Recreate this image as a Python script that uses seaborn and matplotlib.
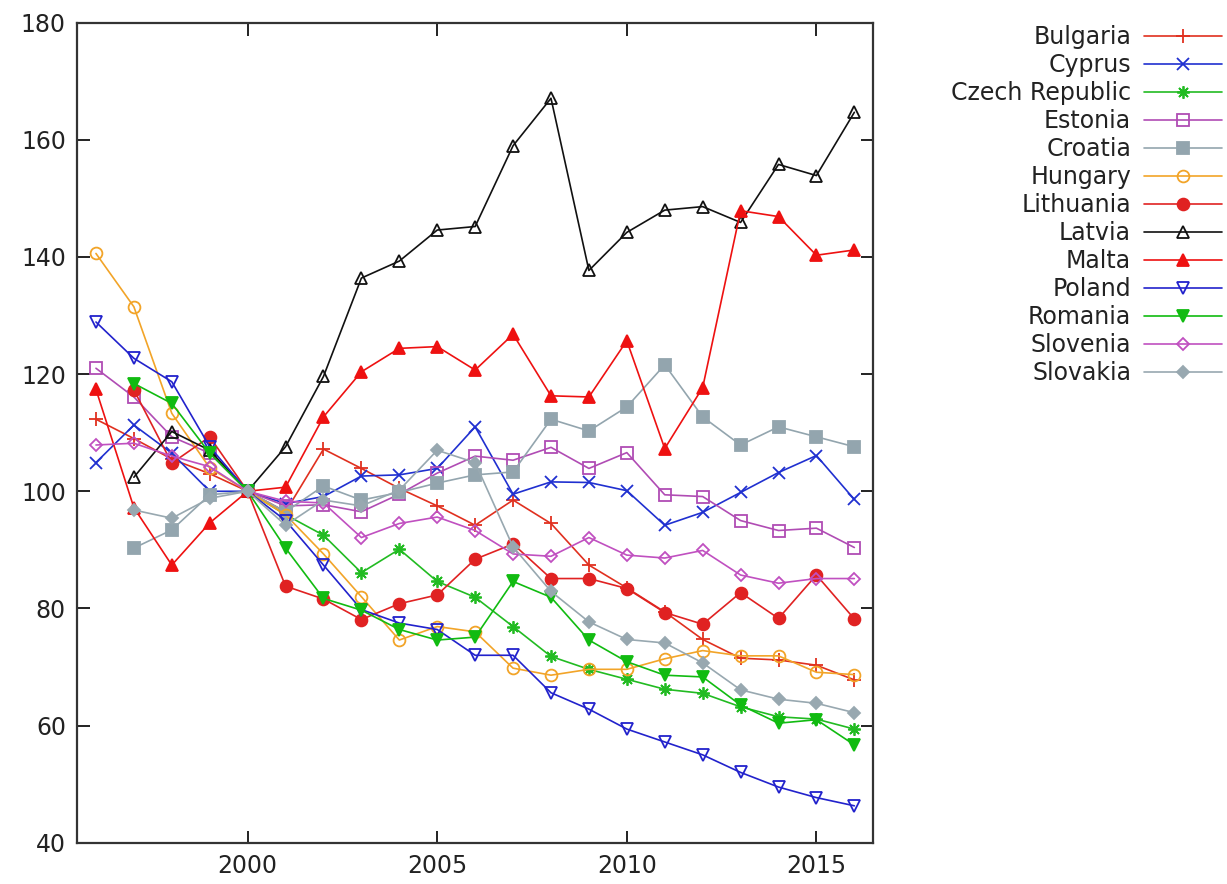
import numpy as np
import pandas as pd
import matplotlib
matplotlib.use("Agg")
import matplotlib.pyplot as plt
import seaborn as sns

years = list(range(1996, 2017))
N = None

countries = ["Bulgaria", "Cyprus", "Czech Republic", "Estonia", "Croatia", "Hungary",
             "Lithuania", "Latvia", "Malta", "Poland", "Romania", "Slovenia", "Slovakia"]

bulgaria = [112.3, 109.0, 105.5, 103.0, 100, 96.5, 107.2, 103.9, 100.5, 97.5, 94.2, 98.5, 94.5,
            87.4, 83.5, 79.4, 74.7, 71.5, 71.2, 70.3, 67.8]
cyprus = [104.9, 111.3, 106.5, 100.0, 100, 97.9, 99.1, 102.6, 102.8, 103.9, 111.0, 99.5, 101.6,
          101.5, 100.1, 94.2, 96.4, 99.8, 103.2, 106.1, 98.6]
czech = [N, N, N, N, 100, 96.0, 92.5, 86.1, 90.1, 84.6, 81.9, 76.9, 71.8,
         69.6, 67.9, 66.2, 65.5, 63.2, 61.5, 61.1, 59.4]
estonia = [121.0, 116.1, 109.3, 106.5, 100, 97.5, 97.7, 96.5, 99.5, 103.1, 106.0, 105.3, 107.5,
           103.9, 106.6, 99.4, 99.1, 95.0, 93.3, 93.7, 90.4]
croatia = [N, 90.3, 93.4, 99.4, 100, 96.5, 100.9, 98.5, 99.8, 101.4, 102.8, 103.3, 112.3,
           110.3, 114.4, 121.6, 112.7, 107.9, 111.0, 109.3, 107.6]
hungary = [140.6, 131.5, 113.3, 104.0, 100, 96.0, 89.3, 82.0, 74.6, 76.9, 76.0, 69.8, 68.6,
           69.6, 69.6, 71.4, 72.8, 71.9, 71.9, 69.1, 68.7]
lithuania = [N, 117.3, 104.8, 109.3, 100, 83.8, 81.6, 78.1, 80.8, 82.3, 88.4, 91.0, 85.1,
             85.1, 83.4, 79.3, 77.3, 82.7, 78.3, 85.7, 78.2]
latvia = [N, 102.4, 110.2, 107.0, 100, 107.6, 119.6, 136.4, 139.3, 144.6, 145.2, 159.0, 167.1,
          137.7, 144.2, 148.0, 148.6, 145.9, 155.8, 153.9, 164.7]
malta = [117.4, 97.2, 87.4, 94.6, 100, 100.7, 112.7, 120.4, 124.4, 124.7, 120.7, 126.8, 116.3,
         116.1, 125.7, 107.3, 117.7, 147.9, 146.9, 140.3, 141.2]
poland = [128.9, 122.7, 118.7, 107.6, 100, 95.0, 87.4, 79.8, 77.5, 76.4, 72.0, 72.0, 65.6,
          62.8, 59.4, 57.2, 55.0, 52.0, 49.5, 47.7, 46.3]
romania = [N, 118.4, 115.0, 106.5, 100, 90.3, 81.7, 79.7, 76.4, 74.6, 75.1, 84.6, 81.9,
           74.6, 70.9, 68.6, 68.3, 63.5, 60.4, 61.0, 56.7]
slovenia = [107.9, 108.2, 106.0, 104.2, 100, 98.3, 98.0, 92.1, 94.5, 95.6, 93.3, 89.3, 88.9,
            92.1, 89.1, 88.6, 89.9, 85.7, 84.3, 85.1, 85.1]
slovakia = [N, 96.8, 95.4, 98.8, 100, 94.2, 98.5, 97.5, 100.2, 107.0, 104.9, 90.5, 82.9,
            77.7, 74.7, 74.1, 70.7, 66.1, 64.5, 63.8, 62.2]

series = [bulgaria, cyprus, czech, estonia, croatia, hungary, lithuania, latvia,
          malta, poland, romania, slovenia, slovakia]

styles = {
    "Bulgaria":       dict(color="#e0301f", marker="+", filled=True, ms=10),
    "Cyprus":         dict(color="#2030d0", marker="x", filled=True, ms=8.5),
    "Czech Republic": dict(color="#22bb22", marker=(8, 2, 0), filled=True, ms=9),
    "Estonia":        dict(color="#b04cb4", marker="s", filled=False, ms=8.5),
    "Croatia":        dict(color="#93a5ae", marker="s", filled=True, ms=8.5),
    "Hungary":        dict(color="#f2a428", marker="o", filled=False, ms=8.5),
    "Lithuania":      dict(color="#e02222", marker="o", filled=True, ms=8.5),
    "Latvia":         dict(color="#111111", marker="^", filled=False, ms=8),
    "Malta":          dict(color="#ee1111", marker="^", filled=True, ms=8.5),
    "Poland":         dict(color="#2222cc", marker="v", filled=False, ms=8),
    "Romania":        dict(color="#11bb11", marker="v", filled=True, ms=8.5),
    "Slovenia":       dict(color="#c050c0", marker="D", filled=False, ms=6),
    "Slovakia":       dict(color="#98a8b0", marker="D", filled=True, ms=6),
}

sns.set_theme(style="ticks")
plt.rcParams["font.family"] = ["DejaVu Sans"]

fig = plt.figure(figsize=(12.27, 8.84), dpi=100)
ax = fig.add_axes([77 / 1227, 1 - 842.7 / 884, (873.3 - 77) / 1227, (842.7 - 22.7) / 884])

for name, vals in zip(countries, series):
    df = pd.DataFrame({"year": years, "value": vals}).dropna()
    st = styles[name]
    sns.lineplot(data=df, x="year", y="value", ax=ax, color=st["color"],
                 marker=st["marker"], markersize=st["ms"],
                 markerfacecolor=st["color"] if st["filled"] else "none",
                 markeredgecolor=st["color"], markeredgewidth=1.3,
                 linewidth=1.2, label=name, estimator=None, sort=True)

ax.set_xlim(1995.5, 2016.5)
ax.set_ylim(40, 180)
ax.set_xticks([2000, 2005, 2010, 2015])
ax.set_yticks([40, 60, 80, 100, 120, 140, 160, 180])
ax.set_xlabel("")
ax.set_ylabel("")
for sp in ax.spines.values():
    sp.set_visible(True)
    sp.set_color("#333333")
    sp.set_linewidth(1.6)
ax.tick_params(axis="both", which="major", direction="in", length=9, width=1.4,
               color="#222222", labelsize=17, labelcolor="#222222",
               top=True, right=True, pad=8)
ax.grid(False)

leg = ax.legend(loc="upper right", bbox_to_anchor=(1222 / 1227, 1 - 25 / 884),
                bbox_transform=fig.transFigure, frameon=False, markerfirst=False,
                fontsize=17, handlelength=3.3, handletextpad=0.55, labelspacing=0.17,
                borderpad=0, borderaxespad=0)
for t in leg.get_texts():
    t.set_color("#222222")

fig.savefig("out.png", dpi=100)
